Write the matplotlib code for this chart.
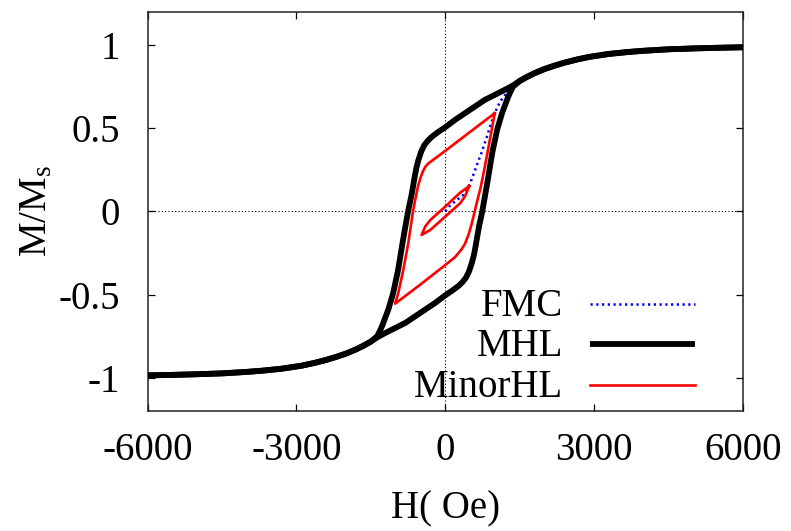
import matplotlib
matplotlib.use("Agg")
import matplotlib.pyplot as plt
from matplotlib.lines import Line2D

# Major hysteresis loop, descending branch (field swept from +H to -H)
mhl_desc_h = [6000, 5500, 5000, 4500, 4000, 3700, 3300, 2900, 2650, 2400, 2200, 2000, 1800, 1650,
              1500, 1370, 1200, 1000, 800, 600, 400, 200, 0,
              -150, -270, -350, -420, -480, -540, -580, -610, -680, -745, -850, -950, -1050,
              -1150, -1210, -1260, -1310, -1370,
              -1500, -1650, -1800, -2000, -2200, -2400, -2650, -2900, -3300, -3700, -4000,
              -4500, -5000, -5500, -6000]
mhl_desc_m = [0.986, 0.983, 0.979, 0.974, 0.965, 0.958, 0.946, 0.928, 0.912, 0.893, 0.875, 0.855,
              0.830, 0.808, 0.783, 0.757, 0.730, 0.700, 0.670, 0.630, 0.590, 0.550, 0.505,
              0.475, 0.448, 0.425, 0.398, 0.362, 0.308, 0.262, 0.215, 0.095, 0.005, -0.172,
              -0.353, -0.493, -0.593, -0.640, -0.680, -0.715, -0.750,
              -0.783, -0.808, -0.830, -0.855, -0.875, -0.893, -0.912, -0.928,
              -0.946, -0.958, -0.965, -0.974, -0.979, -0.983, -0.986]

# Major hysteresis loop, ascending branch (field swept from -H to +H)
mhl_asc_h = [-6000, -5500, -5000, -4500, -4000, -3700, -3300, -2900, -2650, -2400, -2200, -2000,
             -1800, -1650, -1500, -1370, -1200, -1000, -800, -600, -400, -200, 0,
             150, 270, 350, 420, 480, 540, 580, 610, 680, 745, 850, 950, 1050,
             1150, 1210, 1260, 1310, 1370,
             1500, 1650, 1800, 2000, 2200, 2400, 2650, 2900, 3300, 3700, 4000,
             4500, 5000, 5500, 6000]
mhl_asc_m = [-0.986, -0.983, -0.979, -0.974, -0.965, -0.958, -0.946, -0.928, -0.912, -0.893,
             -0.875, -0.855, -0.830, -0.808, -0.783, -0.757, -0.730, -0.700, -0.670, -0.630,
             -0.590, -0.550, -0.505,
             -0.475, -0.448, -0.425, -0.398, -0.362, -0.308, -0.262, -0.215, -0.095, -0.005,
             0.172, 0.353, 0.493, 0.593, 0.640, 0.680, 0.715, 0.750,
             0.783, 0.808, 0.830, 0.855, 0.875, 0.893, 0.912, 0.928,
             0.946, 0.958, 0.965, 0.974, 0.979, 0.983, 0.986]

# First magnetization curve
fmc_h = [0, 100, 200, 300, 370, 450, 500, 550, 640, 740, 840, 925, 1006, 1107, 1208, 1295, 1345]
fmc_m = [0, 0.035, 0.060, 0.082, 0.100, 0.140, 0.165, 0.205, 0.278, 0.358, 0.448, 0.529, 0.595,
         0.659, 0.699, 0.733, 0.750]

# Outer minor loop
minor1_h = [1000, 500, 0, -340, -400, -450, -500, -550, -600, -645, -745, -846, -947, -1010,
            -500, 0, 200, 330, 400, 470, 520, 570, 620, 720, 800, 900, 1000]
minor1_m = [0.590, 0.477, 0.363, 0.288, 0.268, 0.240, 0.200, 0.148, 0.075, 0.008, -0.192,
            -0.353, -0.493, -0.555,
            -0.440, -0.323, -0.275, -0.228, -0.195, -0.140, -0.092, -0.032, 0.030, 0.150, 0.268,
            0.428, 0.590]

# Inner minor loop
minor2_h = [487, 300, 0, -300, -400, -475, -300, 0, 300, 400, 487]
minor2_m = [0.152, 0.112, 0.028, -0.052, -0.090, -0.142, -0.112, -0.032, 0.048, 0.090, 0.152]

x_ticks = [-6000, -3000, 0, 3000, 6000]
y_ticks = [-1, -0.5, 0, 0.5, 1]
y_tick_labels = ["-1", "-0.5", "0", "0.5", "1"]

plt.rcParams["font.family"] = ["Liberation Serif", "DejaVu Serif"]
plt.rcParams["mathtext.fontset"] = "custom"
plt.rcParams["mathtext.rm"] = "Liberation Serif"
plt.rcParams["mathtext.it"] = "Liberation Serif:italic"
plt.rcParams["axes.unicode_minus"] = False

FS = 28

fig = plt.figure(figsize=(7.91, 5.31), dpi=100)
ax = fig.add_axes([0.1867, 0.226, 0.7522, 0.752])

# dotted zero axes
ax.axhline(0, color="black", lw=0.8, ls=(0, (1, 2)), zorder=1)
ax.axvline(0, color="black", lw=0.8, ls=(0, (1, 2)), zorder=1)

fmc_style = dict(color="#0000ff", lw=1.8, ls=(0, (0.9, 1.4)))
mhl_style = dict(color="black", lw=4.2, solid_joinstyle="round", solid_capstyle="butt")
minor_style = dict(color="#ff0000", lw=1.9)

ax.plot(fmc_h, fmc_m, zorder=2, **fmc_style)
ax.plot(mhl_desc_h, mhl_desc_m, zorder=3, **mhl_style)
ax.plot(mhl_asc_h, mhl_asc_m, zorder=3, **mhl_style)
ax.plot(minor1_h, minor1_m, zorder=4, **minor_style)
ax.plot(minor2_h, minor2_m, zorder=4, **minor_style)

ax.set_xlim(-6000, 6000)
ax.set_ylim(-1.2, 1.2)
ax.set_xticks(x_ticks)
ax.set_xticklabels([str(v) for v in x_ticks])
ax.set_yticks(y_ticks)
ax.set_yticklabels(y_tick_labels)
ax.tick_params(direction="in", length=5, width=0.9, top=True, right=True,
               labelsize=FS, colors="black")
ax.tick_params(axis="x", pad=15)
ax.tick_params(axis="y", pad=20)
for s in ax.spines.values():
    s.set_linewidth(1.1)
    s.set_color("#222222")

ax.set_xlabel("H( Oe)", fontsize=FS)
ax.xaxis.set_label_coords(0.5, -0.2)
ax.set_ylabel(r"M/M$_{\rm s}$", fontsize=FS)
ax.yaxis.set_label_coords(-0.155, 0.5)

# key: right-aligned labels with line samples to their right
key_entries = [("FMC", fmc_style), ("MHL", mhl_style), ("MinorHL", minor_style)]
key_rows = [0.268, 0.168, 0.066]
for (name, style), ky in zip(key_entries, key_rows):
    ax.add_line(Line2D([0.7436, 0.9202], [ky, ky], transform=ax.transAxes, zorder=5, **style))
    ax.text(0.698, ky - 0.031, name, transform=ax.transAxes, ha="right", va="baseline",
            fontsize=FS, zorder=5)

fig.savefig("out.png", dpi=100)
